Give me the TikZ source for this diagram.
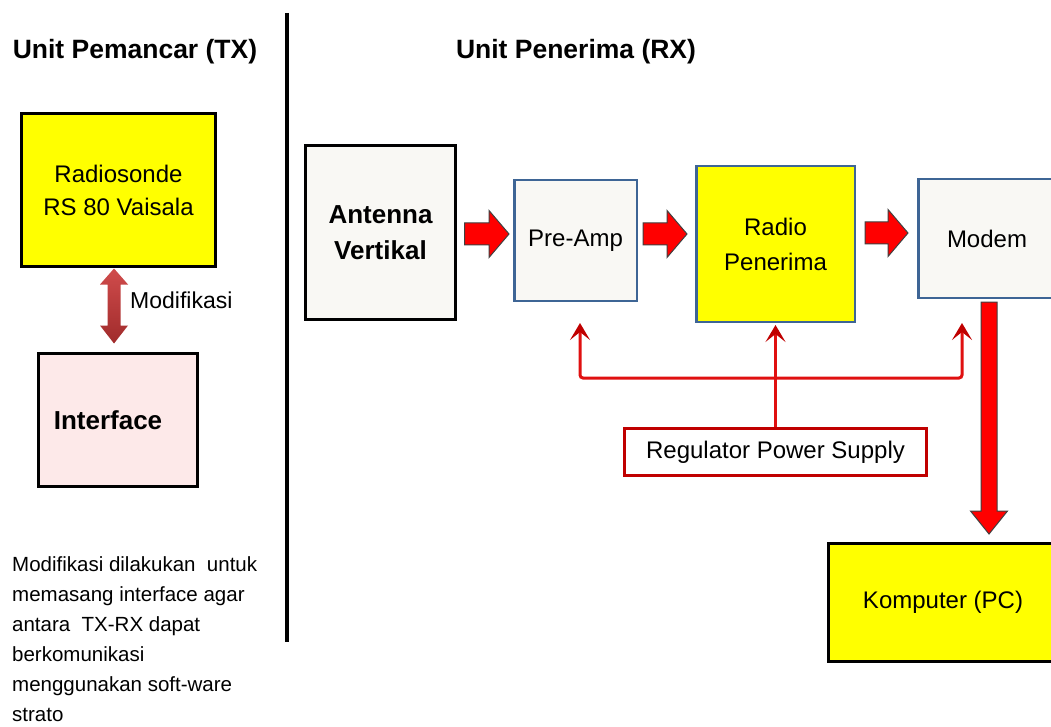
\documentclass[tikz,border=0pt]{standalone}
\usepackage{fontspec}
\setmainfont{Liberation Sans}
\usetikzlibrary{calc,arrows.meta}
\definecolor{boxyellow}{HTML}{FFFF00}
\definecolor{offwhite}{HTML}{F9F8F4}
\definecolor{pinkfill}{HTML}{FDE9E9}
\definecolor{blueedge}{HTML}{3E6595}
\definecolor{pwred}{HTML}{E01010}
\definecolor{regred}{HTML}{C00000}
\definecolor{modtop}{HTML}{D04C4C}
\definecolor{modbot}{HTML}{A02B2B}
\newcommand\fs[2]{\fontsize{#1}{#2}\selectfont}
\newcommand\harrow[2]{\draw[redarrow] ($(#1)+(0,-11)$) -- ($(#2)+(-20,-11)$) -- ($(#2)+(-20,-23.5)$) -- (#2) -- ($(#2)+(-20,23.5)$) -- ($(#2)+(-20,11)$) -- ($(#1)+(0,11)$) -- cycle;}
\tikzset{pwhead/.tip={Stealth[length=17pt,width=20pt,inset=8pt,color=regred]}}
\begin{document}
\begin{tikzpicture}[x=1pt,y=-1pt,
 box/.style={rectangle,draw,inner sep=0pt,align=center,font=\fs{24}{33}},
 blackbox/.style={box,line width=3pt,draw=black},
 bluebox/.style={box,line width=2.5pt,draw=blueedge},
 redarrow/.style={fill=red,draw=black!75,line width=1pt,line join=miter},
 pw/.style={draw=pwred,line width=3pt},
 title/.style={font=\bfseries\fs{26.5}{30},inner sep=0pt}
]
\clip (0,0) rectangle (1051,727);
\fill[white] (0,0) rectangle (1051,727);

% titles and divider
\node[title] (ttx) at (135,52) {Unit Pemancar (TX)};
\node[title] (trx) at (576,52) {Unit Penerima (RX)};
\coordinate (divtop) at (287,13);
\coordinate (divbot) at (287,642);
\draw[line width=4.5pt] (divtop) -- (divbot);

% TX side
\node[blackbox,fill=boxyellow,minimum width=194pt,minimum height=153pt] (rs) at (118.5,190) {Radiosonde\\RS 80 Vaisala};
\node[blackbox,fill=pinkfill,minimum width=159pt,minimum height=133pt,font=\bfseries\fs{26}{30}] (intf) at (118,420) {Interface\hspace{20pt}};
\coordinate (dt) at ($(rs.south)+(-4.5,0.5)$);
\coordinate (db) at ($(intf.north)+(-4,-8.5)$);
\path[top color=modtop,bottom color=modbot] (dt) -- ($(dt)+(14,16)$) -- ($(dt)+(6.5,16)$) -- ($(db)+(6.5,-18)$) -- ($(db)+(14,-18)$) -- (db) -- ($(db)+(-14,-18)$) -- ($(db)+(-6.5,-18)$) -- ($(dt)+(-6.5,16)$) -- ($(dt)+(-14,16)$) -- cycle;
\node[anchor=west,inner sep=0pt,font=\fs{23}{26}] (modlbl) at (130,300) {Modifikasi};

\node[anchor=north west,inner sep=0pt,align=left,font=\fs{20.5}{30}] (note) at (12,556) {Modifikasi dilakukan\ \ untuk\\memasang interface agar\\antara\ \ TX-RX dapat\\berkomunikasi\\menggunakan soft-ware\\strato};

% RX side
\node[blackbox,fill=offwhite,minimum width=150pt,minimum height=174pt,font=\bfseries\fs{26}{36}] (ant) at (380.5,232.5) {Antenna\\Vertikal};
\node[bluebox,fill=offwhite,minimum width=122.5pt,minimum height=120.5pt] (pre) at (575.5,240.5) {Pre-Amp};
\node[bluebox,fill=boxyellow,minimum width=158.5pt,minimum height=155.5pt,font=\fs{24}{35}] (rad) at (775.5,244) {Radio\\Penerima};
\node[bluebox,fill=offwhite,minimum width=137.5pt,minimum height=118.5pt] (mod) at (987,238.5) {Modem};
\node[blackbox,fill=boxyellow,minimum width=229pt,minimum height=118pt] (kom) at (943,602.5) {Komputer (PC)};
\node[box,draw=regred,line width=3pt,fill=white,minimum width=302pt,minimum height=47pt] (reg) at (775.5,452) {Regulator Power Supply};

% block arrows
\coordinate (a1s) at ($(ant.east)+(7.5,1.5)$);
\coordinate (a1e) at ($(a1s -| pre.west)+(-4,0)$);
\coordinate (a2s) at ($(pre.east |- a1s)+(5,0)$);
\coordinate (a2e) at ($(a2s -| rad.west)+(-8,0)$);
\coordinate (a3s) at ($(rad.east)+(9,-11)$);
\coordinate (a3e) at ($(a3s -| mod.west)+(-9,0)$);
\harrow{a1s}{a1e}
\harrow{a2s}{a2e}
\harrow{a3s}{a3e}

\coordinate (ds) at ($(mod.south)+(2,3)$);
\coordinate (de) at ($(ds |- kom.north)+(0,-8)$);
\draw[redarrow] ($(ds)+(-8,0)$) -- ($(ds)+(8,0)$) -- ($(de)+(8,-23)$) -- ($(de)+(18.5,-23)$) -- (de) -- ($(de)+(-18.5,-23)$) -- ($(de)+(-8,-23)$) -- cycle;

% power distribution
\coordinate (pl) at (580,323);
\coordinate (pr) at (962,323);
\coordinate (hj) at (775.5,378);
\draw[pw,arrows={pwhead-pwhead},rounded corners=3pt] (pl) |- (hj) -| (pr);
\draw[pw,arrows={-pwhead}] (reg.north) -- ($(rad.south)+(0,2)$);
\end{tikzpicture}
\end{document}
